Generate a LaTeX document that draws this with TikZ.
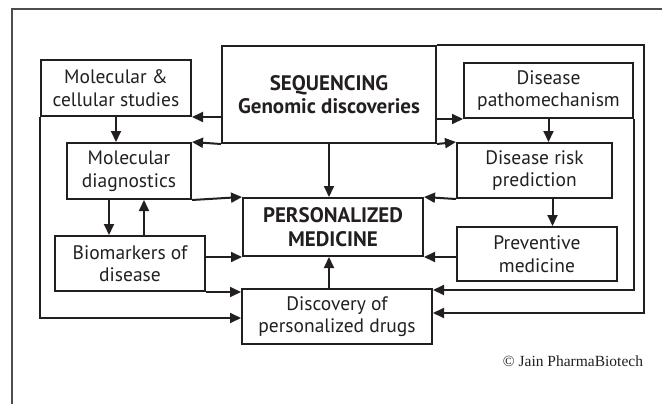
\documentclass[tikz,border=0pt]{standalone}
\usepackage{fontspec}
\setmainfont{PT Sans}
\newfontfamily\serifcopy{Liberation Serif}
\usetikzlibrary{arrows.meta}
\definecolor{ink}{HTML}{231F20}
\begin{document}
\begin{tikzpicture}[x=1pt, y=-1pt, line width=2pt, draw=ink, text=ink,
		box/.style={draw=ink, line width=2pt, align=center, inner sep=0pt,
			font=\fontsize{19.5}{22.5}\selectfont},
		bold/.style={font=\fontsize{21}{23.5}\selectfont\bfseries},
		arr/.style={-{Triangle[length=11pt,width=10pt]}, draw=ink, line width=2pt}]
		\useasboundingbox (0,0) rectangle (662,404);
		% frame of the figure
		\draw[line width=1.2pt, draw=ink!80] (662,9) -- (12,9) -- (12,404);
		% blocks
		\node[box, bold, minimum width=214pt, minimum height=97pt] (seq) at (329,94.5) {SEQUENCING\\Genomic discoveries};
		\node[box, minimum width=150pt, minimum height=56pt] (cell) at (116,88) {Molecular \&\\cellular studies};
		\node[box, minimum width=124pt, minimum height=56pt] (diag) at (129,171) {Molecular\\diagnostics};
		\node[box, minimum width=150pt, minimum height=55pt] (bio) at (130,263.5) {Biomarkers of\\disease};
		\node[box, bold, minimum width=180pt, minimum height=58pt] (pm) at (333,227) {PERSONALIZED\\MEDICINE};
		\node[box, minimum width=190pt, minimum height=55pt] (drug) at (337,316.5) {Discovery of\\personalized drugs};
		\node[box, minimum width=169pt, minimum height=55pt] (patho) at (548.5,90.5) {Disease\\pathomechanism};
		\node[box, minimum width=155pt, minimum height=55pt] (risk) at (534.5,170.5) {Disease risk\\prediction};
		\node[box, minimum width=160pt, minimum height=54pt] (prev) at (537,254) {Preventive\\medicine};
		\coordinate (rimR) at (644,0);
		\coordinate (drugR) at ([yshift=3.5pt]drug.east);
		% from sequencing
		\draw[arr] (seq.west |- cell.south) -- (cell.south east);
		\draw[arr] (seq.south west) -- (diag.north east);
		\draw[arr] (seq.south east) -- (risk.north west);
		\draw[arr] (seq.south) -- (seq.south |- pm.north);
		\draw[arr] (seq.east |- patho.south) -- (patho.south west);
		\draw[arr] (seq.north east) -| (rimR |- drugR) -- (drugR);
		% left side
		\draw[arr] (cell.south) -- (cell.south |- diag.north);
		\draw[arr] (cell.south west) |- ([yshift=-1.5pt]drug.west);
		\draw[arr] (diag.south east) -- (pm.north west);
		\draw[arr] ([xshift=-20pt]diag.south) -- ([xshift=-20pt]diag.south |- bio.north);
		\draw[arr] ([xshift=15pt]diag.south |- bio.north) -- ([xshift=15pt]diag.south);
		\draw[arr] (bio.east |- pm.south west) -- (pm.south west);
		\draw[arr] (bio.south east) -- (drug.west |- bio.south east);
		\draw[arr] (seq.south |- drug.north) -- (seq.south |- pm.south);
		% right side
		\draw[arr] (patho.south) -- (patho.south |- risk.north);
		\draw[arr] (patho.south east) |- ([yshift=-2pt]drug.north east);
		\draw[arr] (risk.south west) -- (pm.north east);
		\draw[arr] ([xshift=18pt]risk.south) -- ([xshift=18pt]risk.south |- prev.north);
		\draw[arr] (prev.west |- pm.south east) -- (pm.south east);
		% credit
		\node[anchor=east, inner sep=0pt, font=\serifcopy\fontsize{15.5}{18}\selectfont] (credit) at (644,361) {© Jain PharmaBiotech};
	\end{tikzpicture}
\end{document}
